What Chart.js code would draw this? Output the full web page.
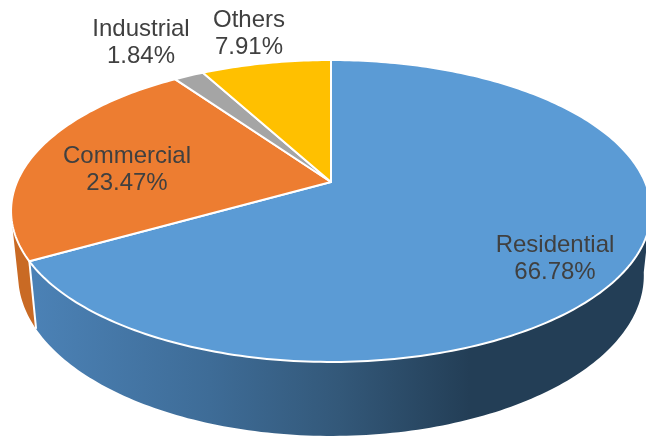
<!DOCTYPE html>
<html>
<head>
<meta charset="utf-8">
<title>Pie</title>
<script src="https://cdn.jsdelivr.net/npm/chart.js@4/dist/chart.umd.js"></script>
<style>
  html, body { margin: 0; padding: 0; background: #fff; overflow: hidden; }
  #wrap { width: 646px; height: 438px; }
</style>
</head>
<body>
<div id="wrap"><canvas id="myChart"></canvas></div>
<script>
const categories = ['Residential', 'Commercial', 'Industrial', 'Others'];
const shares = [66.78, 23.47, 1.84, 7.91];
const sliceColors = ['#5B9BD5', '#ED7D31', '#A5A5A5', '#FFC000'];

// label centres, same order as categories
const labelX = [555, 127, 141, 249];
const labelY = [258.5, 169.5, 42.5, 33.5];

// perspective of the disc: top face and the smaller rim under it
const top3d = { cx: 331, cy: 182, a: 314, b: 145.4 };
const rim3d = { cx: 331, cy: 244.6, a: 307, b: 154.6 };
const tilt = -0.192;
const deg = Math.PI / 180;

// theta is clockwise from 12 o'clock
function project(shape, theta) {
  const u = Math.sin(theta);
  const v = -Math.cos(theta);
  const w = 1 + tilt * v;
  return [shape.cx + shape.a * u / w, shape.cy + shape.b * v / w];
}

function traceArc(ctx, shape, from, to) {
  const steps = Math.max(2, Math.ceil(Math.abs(to - from) / deg));
  for (let i = 0; i <= steps; i++) {
    const p = project(shape, from + (to - from) * i / steps);
    ctx.lineTo(p[0], p[1]);
  }
}

function drawWall(ctx, topFrom, topTo, rimFrom, rimTo, fill) {
  ctx.beginPath();
  traceArc(ctx, top3d, topFrom, topTo);
  traceArc(ctx, rim3d, rimTo, rimFrom);
  ctx.closePath();
  ctx.fillStyle = fill;
  ctx.fill();
}

const pie3d = {
  id: 'pie3d',
  beforeDatasetsDraw(chart) {
    const ctx = chart.ctx;
    const arcs = chart.getDatasetMeta(0).data;
    const start = arcs.map(a => a.startAngle + Math.PI / 2);
    const end = arcs.map(a => a.endAngle + Math.PI / 2);

    ctx.save();
    ctx.lineJoin = 'round';

    // side walls first, the top face covers what is left over
    const blue = ctx.createLinearGradient(36, 0, 470, 0);
    blue.addColorStop(0, '#4B81B5');
    blue.addColorStop(0.4, '#3E6C97');
    blue.addColorStop(0.7, '#335879');
    blue.addColorStop(1, '#233E56');
    drawWall(ctx, 100 * deg, end[0], 100 * deg, end[0], blue);
    drawWall(ctx, end[0], 255 * deg, end[0], 255 * deg, '#C96A24');

    // white seam between the two walls
    const seamTop = project(top3d, end[0]);
    const seamRim = project(rim3d, end[0]);
    ctx.beginPath();
    ctx.moveTo(seamTop[0], seamTop[1]);
    ctx.lineTo(seamRim[0], seamRim[1]);
    ctx.strokeStyle = '#fff';
    ctx.lineWidth = 2;
    ctx.stroke();

    // top face
    arcs.forEach((arc, i) => {
      ctx.beginPath();
      ctx.moveTo(top3d.cx, top3d.cy);
      traceArc(ctx, top3d, start[i], end[i]);
      ctx.closePath();
      ctx.fillStyle = sliceColors[i];
      ctx.fill();
      ctx.strokeStyle = '#fff';
      ctx.lineWidth = 2;
      ctx.stroke();
    });

    // labels
    ctx.fillStyle = '#404040';
    ctx.font = '24px "Liberation Sans"';
    ctx.textAlign = 'center';
    ctx.textBaseline = 'middle';
    categories.forEach((name, i) => {
      ctx.fillText(name, labelX[i], labelY[i] - 13.5);
      ctx.fillText(shares[i].toFixed(2) + '%', labelX[i], labelY[i] + 13.5);
    });
    ctx.restore();
    return false;
  }
};

new Chart(document.getElementById('myChart').getContext('2d'), {
  type: 'pie',
  data: {
    labels: categories,
    datasets: [{ data: shares, backgroundColor: sliceColors }]
  },
  options: {
    responsive: true,
    maintainAspectRatio: false,
    animation: false,
    devicePixelRatio: 1,
    plugins: { legend: { display: false }, tooltip: { enabled: false } }
  },
  plugins: [pie3d]
});
</script>
</body>
</html>
